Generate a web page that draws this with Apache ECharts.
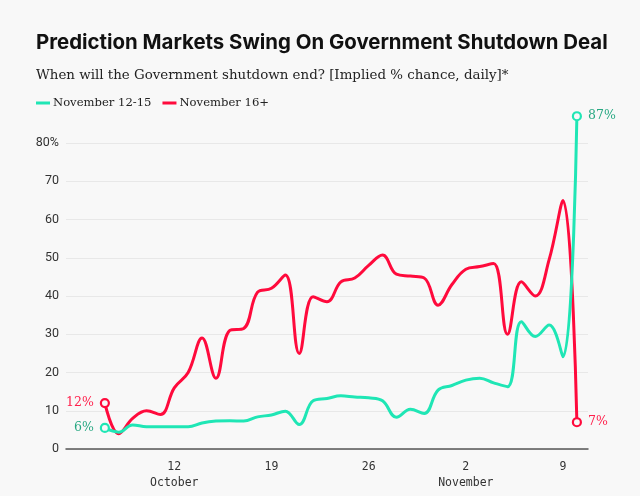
<!DOCTYPE html>
<html><head><meta charset="utf-8">
<script src="https://cdn.jsdelivr.net/npm/echarts@6/dist/echarts.min.js"></script>
<style>html,body{margin:0;padding:0;background:#f8f8f8}#c{width:640px;height:496px}</style>
</head><body><div id="c"></div>
<script>
// Daily values, Oct 7 .. Nov 10 (day index 0..34)
const dates = ['Oct 7','Oct 8','Oct 9','Oct 10','Oct 11','Oct 12','Oct 13','Oct 14','Oct 15','Oct 16','Oct 17','Oct 18','Oct 19','Oct 20','Oct 21','Oct 22','Oct 23','Oct 24','Oct 25','Oct 26','Oct 27','Oct 28','Oct 29','Oct 30','Oct 31','Nov 1','Nov 2','Nov 3','Nov 4','Nov 5','Nov 6','Nov 7','Nov 8','Nov 9','Nov 10'];
const nov12to15 = [5.5,4.4,6.3,5.8,5.8,5.8,5.8,6.8,7.3,7.4,7.3,8.4,8.9,9.9,6.4,12.6,13.2,13.9,13.6,13.4,12.6,8.3,10.4,9.3,15.4,16.6,18,18.5,17.3,16.3,33.3,29.4,32.4,24.1,87];
const nov16plus = [12,4,8,10,9,16,20,29,18.5,31,31.5,41,42,45.5,25,39.8,38.5,43.7,44.7,48,50.7,45.7,45.2,44.7,37.6,43,47,47.7,48.5,30,43.7,40,49.5,65,7];
const xTickDays = [5,12,19,26,33];
const xTickLabels = ['12\nOctober','19','26','2\nNovember','9'];
const yTicks = [0,10,20,30,40,50,60,70,80];
const seriesNames = ['November 12-15','November 16+'];

const GREEN = '#1fe6b5', RED = '#ff0a3c';
const GREEN_TXT = '#27a882', RED_TXT = '#ff1f4b';
const BG = '#f8f8f8';
const serif = '"DejaVu Serif", "Liberation Serif", serif';

function build(values, color, txtColor) {
  const last = values.length - 1;
  return values.map((v, i) => {
    if (i === 0 || i === last) {
      return {
        value: [i, v],
        symbol: 'circle', symbolSize: 8,
        itemStyle: {color: BG, borderColor: color, borderWidth: 2.2},
        label: {show: true, position: i === 0 ? 'left' : 'right', distance: 6,
          formatter: Math.round(v) + '%', color: txtColor, fontFamily: serif, fontSize: 12.5}
      };
    }
    return {value: [i, v], symbol: 'none'};
  });
}

const chart = echarts.init(document.getElementById('c'), null, {renderer: 'canvas'});
chart.setOption({
  backgroundColor: BG,
  animation: false,
  title: [
    {text: 'Prediction Markets Swing On Government Shutdown Deal', left: 31, top: 28,
     textStyle: {fontFamily: 'Inter, "Liberation Sans", sans-serif', fontWeight: 'bold', fontSize: 20.4, color: '#111'}},
    {text: 'When will the Government shutdown end? [Implied % chance, daily]*', left: 31, top: 64,
     textStyle: {fontFamily: serif, fontWeight: 'normal', fontSize: 13.4, color: '#222'}}
  ],
  legend: {
    left: 31, top: 92, itemWidth: 14, itemHeight: 3, itemGap: 11, icon: 'rect',
    textStyle: {fontFamily: serif, fontSize: 11.6, color: '#222', padding: [0, 0, 0, -2]},
    data: seriesNames
  },
  grid: {left: 66, right: 52, top: 143, bottom: 47},
  xAxis: {
    type: 'value', min: -2.8, max: 34.8,
    axisLine: {show: true, onZero: false, lineStyle: {color: '#555', width: 1.5}},
    axisTick: {show: false},
    splitLine: {show: false},
    axisLabel: {
      customValues: xTickDays, margin: 10, lineHeight: 16,
      fontFamily: '"DejaVu Sans Mono", "Liberation Mono", monospace', fontSize: 11.5, color: '#333',
      formatter: v => xTickLabels[xTickDays.indexOf(Math.round(v))] || ''
    }
  },
  yAxis: {
    type: 'value', min: 0, max: 80, interval: 10,
    axisLine: {show: false}, axisTick: {show: false},
    splitLine: {lineStyle: {color: '#e8e8e8', width: 1}},
    axisLabel: {
      margin: 7, fontFamily: 'Roboto, "Liberation Sans", sans-serif', fontSize: 12.5, color: '#333',
      formatter: v => yTicks.includes(v) ? (v === 80 ? '80%' : String(v)) : ''
    }
  },
  series: [
    {name: seriesNames[0], type: 'line', smooth: 0.4, clip: false, color: GREEN,
     lineStyle: {color: GREEN, width: 3}, data: build(nov12to15, GREEN, GREEN_TXT), z: 3},
    {name: seriesNames[1], type: 'line', smooth: 0.4, clip: false, color: RED,
     lineStyle: {color: RED, width: 3}, data: build(nov16plus, RED, RED_TXT), z: 2}
  ]
});
</script></body></html>
